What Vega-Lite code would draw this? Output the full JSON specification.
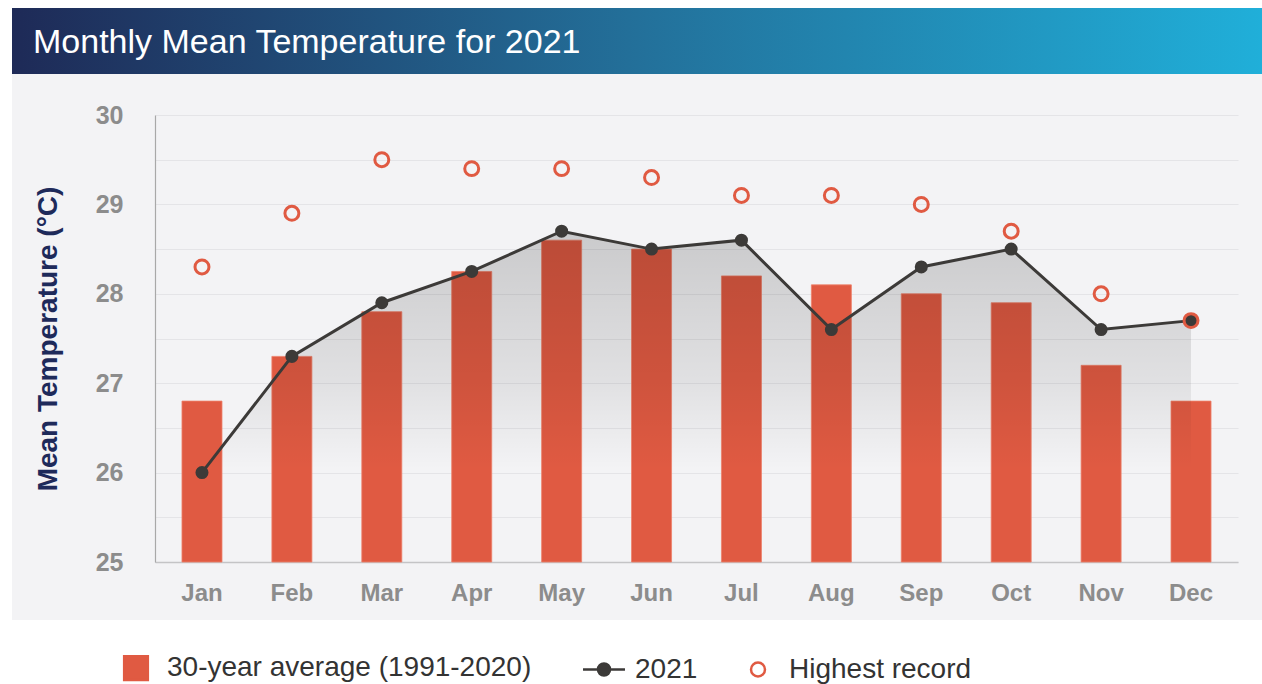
{
  "$schema": "https://vega.github.io/schema/vega-lite/v6.json",
  "background": "#ffffff",
  "padding": {"left": 12, "top": 8, "right": 0, "bottom": 0},
  "config": {"font": "Liberation Sans", "view": {"stroke": null}},
  "spacing": 0,
  "resolve": {
    "scale": {"shape": "independent", "fill": "independent", "stroke": "independent", "size": "independent"},
    "legend": {"shape": "independent", "fill": "independent", "stroke": "independent", "size": "independent"}
  },
  "datasets": {
    "temps": [
      {"month": "Jan", "avg": 26.8, "y2021": 26.0, "record": 28.3},
      {"month": "Feb", "avg": 27.3, "y2021": 27.3, "record": 28.9},
      {"month": "Mar", "avg": 27.8, "y2021": 27.9, "record": 29.5},
      {"month": "Apr", "avg": 28.25, "y2021": 28.25, "record": 29.4},
      {"month": "May", "avg": 28.6, "y2021": 28.7, "record": 29.4},
      {"month": "Jun", "avg": 28.5, "y2021": 28.5, "record": 29.3},
      {"month": "Jul", "avg": 28.2, "y2021": 28.6, "record": 29.1},
      {"month": "Aug", "avg": 28.1, "y2021": 27.6, "record": 29.1},
      {"month": "Sep", "avg": 28.0, "y2021": 28.3, "record": 29.0},
      {"month": "Oct", "avg": 27.9, "y2021": 28.5, "record": 28.7},
      {"month": "Nov", "avg": 27.2, "y2021": 27.6, "record": 28.0},
      {"month": "Dec", "avg": 26.8, "y2021": 27.7, "record": 27.7}
    ]
  },
  "vconcat": [
    {
      "width": 1250,
      "height": 66,
      "view": {
        "stroke": null,
        "fill": {
          "gradient": "linear",
          "x1": 0, "y1": 0, "x2": 1, "y2": 0,
          "stops": [
            {"offset": 0, "color": "#1e2a57"},
            {"offset": 0.5, "color": "#23709a"},
            {"offset": 1, "color": "#20afd9"}
          ]
        }
      },
      "title": {
        "text": "Monthly Mean Temperature for 2021",
        "anchor": "start",
        "frame": "group",
        "orient": "top",
        "offset": -79,
        "baseline": "alphabetic",
        "dx": 21,
        "color": "#ffffff",
        "fontSize": 34,
        "fontWeight": "normal",
        "font": "Liberation Sans"
      },
      "data": {"values": []},
      "mark": {"type": "rect"},
      "encoding": {}
    },
    {
      "width": 1250,
      "height": 546,
      "view": {"fill": "#f3f3f5", "stroke": null},
      "data": {"name": "temps"},
      "encoding": {
        "x": {
          "field": "month",
          "type": "ordinal",
          "sort": null,
          "scale": {"paddingInner": 0.555, "paddingOuter": 0.3, "range": [143, 1226]},
          "axis": {
            "title": null,
            "offset": -58,
            "labelAngle": 0,
            "labelFontSize": 24,
            "labelFontWeight": "bold",
            "labelColor": "#8c8c8c",
            "labelPadding": 19,
            "ticks": false,
            "tickSize": 0,
            "domainColor": "#c4c4c6",
            "domainWidth": 1.5,
            "grid": false
          }
        }
      },
      "layer": [
        {
          "mark": {"type": "bar", "color": "#e05a42", "stroke": "#ee8069", "strokeWidth": 0.8},
          "encoding": {
            "y": {
              "field": "avg",
              "type": "quantitative",
              "scale": {"domain": [25, 30], "zero": false, "nice": false, "range": [488, 41]},
              "axis": {
                "title": "Mean Temperature (°C)",
                "offset": -143,
                "titleFontSize": 28,
                "titleFontWeight": "bold",
                "titleColor": "#1e2a5a",
                "titlePadding": 33,
                "values": [25, 25.5, 26, 26.5, 27, 27.5, 28, 28.5, 29, 29.5, 30],
                "labelExpr": "datum.value % 1 === 0 ? format(datum.value, 'd') : ''",
                "labelFontSize": 25,
                "labelFontWeight": "bold",
                "labelColor": "#8c8c8c",
                "labelPadding": 32,
                "ticks": false,
                "tickSize": 0,
                "gridColor": "#e4e4e7",
                "gridWidth": 1.2,
                "domainColor": "#a8a8a8",
                "domainWidth": 1.2
              }
            },
            "y2": {"datum": 25}
          }
        },
        {
          "mark": {
            "type": "area",
            "fill": {
              "gradient": "linear",
              "x1": 0, "y1": 0, "x2": 0, "y2": 1,
              "stops": [
                {"offset": 0, "color": "rgba(0,0,0,0.17)"},
                {"offset": 0.45, "color": "rgba(0,0,0,0.08)"},
                {"offset": 0.72, "color": "rgba(0,0,0,0)"},
                {"offset": 1, "color": "rgba(0,0,0,0)"}
              ]
            }
          },
          "encoding": {
            "y": {"field": "y2021", "type": "quantitative"},
            "y2": {"datum": 25}
          }
        },
        {
          "mark": {"type": "line", "color": "#3c3a38", "strokeWidth": 3, "point": {"filled": true, "size": 170, "color": "#3c3a38"}},
          "encoding": {
            "y": {"field": "y2021", "type": "quantitative"}
          }
        },
        {
          "mark": {"type": "point", "filled": false, "strokeWidth": 3, "opacity": 1},
          "encoding": {
            "y": {"field": "record", "type": "quantitative"},
            "shape": {
              "datum": "Highest record",
              "type": "nominal",
              "scale": {
                "domain": ["30-year average (1991-2020)", "2021", "Highest record"],
                "range": ["square", "M-2.16,0L2.16,0M-0.62,0A0.62,0.62,0,1,0,0.62,0A0.62,0.62,0,1,0,-0.62,0Z", "circle"]
              },
              "legend": {
                "orient": "none",
                "legendX": 110,
                "legendY": 580,
                "direction": "horizontal",
                "title": null,
                "padding": 0,
                "labelFontSize": 28,
                "labelColor": "#333333",
                "labelFont": "Liberation Sans",
                "labelOffset": 17,
                "labelLimit": 0,
                "symbolStrokeWidth": 2.5,
                "columnPadding": 46
              }
            },
            "fill": {
              "datum": "Highest record",
              "type": "nominal",
              "scale": {
                "domain": ["30-year average (1991-2020)", "2021", "Highest record"],
                "range": ["#e05a42", "#3c3a38", "transparent"]
              },
              "legend": {
                "orient": "none",
                "legendX": 110,
                "legendY": 580,
                "direction": "horizontal",
                "title": null,
                "padding": 0,
                "labelFontSize": 28,
                "labelColor": "#333333",
                "labelFont": "Liberation Sans",
                "labelOffset": 17,
                "labelLimit": 0,
                "symbolStrokeWidth": 2.5,
                "columnPadding": 46
              }
            },
            "stroke": {
              "datum": "Highest record",
              "type": "nominal",
              "scale": {
                "domain": ["30-year average (1991-2020)", "2021", "Highest record"],
                "range": ["#e05a42", "#3c3a38", "#e05a42"]
              },
              "legend": {
                "orient": "none",
                "legendX": 110,
                "legendY": 580,
                "direction": "horizontal",
                "title": null,
                "padding": 0,
                "labelFontSize": 28,
                "labelColor": "#333333",
                "labelFont": "Liberation Sans",
                "labelOffset": 17,
                "labelLimit": 0,
                "symbolStrokeWidth": 2.5,
                "columnPadding": 46
              }
            },
            "size": {
              "datum": "Highest record",
              "type": "nominal",
              "scale": {
                "type": "point",
                "padding": 0,
                "domain": ["30-year average (1991-2020)", "2021", "Highest record"],
                "range": [560, 195]
              },
              "legend": {
                "orient": "none",
                "legendX": 110,
                "legendY": 580,
                "direction": "horizontal",
                "title": null,
                "padding": 0,
                "labelFontSize": 28,
                "labelColor": "#333333",
                "labelFont": "Liberation Sans",
                "labelOffset": 17,
                "labelLimit": 0,
                "symbolStrokeWidth": 2.5,
                "columnPadding": 46
              }
            }
          }
        }
      ]
    }
  ]
}
